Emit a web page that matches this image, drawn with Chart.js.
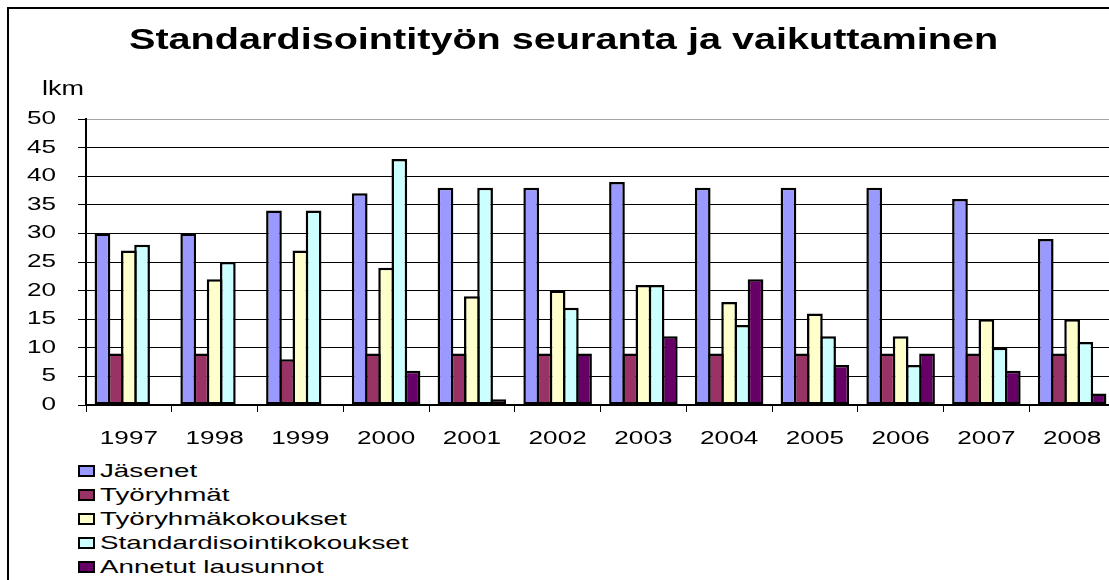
<!DOCTYPE html>
<html>
<head>
<meta charset="utf-8">
<script src="https://cdn.jsdelivr.net/npm/chart.js@4.4.0/dist/chart.umd.min.js"></script>
<style>
  html, body { margin: 0; padding: 0; background: #fff; }
  #wrap { position: relative; width: 1109px; height: 580px; overflow: hidden; background: #fff; }
  #chart { position: absolute; left: 0; top: 0; }
  #frame { position: absolute; left: 7px; top: 7px; width: 1200px; height: 700px; border: 2px solid #000; pointer-events: none; }
  #title { position: absolute; left: 129px; top: 24px; font: bold 30px 'Liberation Sans', Arial, sans-serif; line-height: 30px; white-space: nowrap; color: #000; transform: scaleX(1.32); transform-origin: 0 0; }
  #unit { position: absolute; left: 42px; top: 78px; font: 20px 'Liberation Sans', Arial, sans-serif; line-height: 20px; color: #000; transform: scaleX(1.35); transform-origin: 0 0; }
  #legend { position: absolute; left: 78px; top: 459px; font: 19px 'Liberation Sans', Arial, sans-serif; color: #000; }
  .item { height: 24px; line-height: 24px; white-space: nowrap; position: relative; }
  .box { position: absolute; left: 0; top: 6px; width: 17px; height: 12px; box-sizing: border-box; border: 2px solid #000; }
  .txt { position: absolute; left: 22px; top: 0; transform: scaleX(1.46); transform-origin: 0 0; }
</style>
</head>
<body>
<div id="wrap">
  <canvas id="chart" width="1115" height="450"></canvas>
  <div id="title"></div>
  <div id="unit"></div>
  <div id="legend"></div>
  <div id="frame"></div>
</div>
<script>
// --- DATA ---
const years = ['1997', '1998', '1999', '2000', '2001', '2002', '2003', '2004', '2005', '2006', '2007', '2008'];
const jasenet = [30, 30, 34, 37, 38, 38, 39, 38, 38, 38, 36, 29];
const tyoryhmat = [9, 9, 8, 9, 9, 9, 9, 9, 9, 9, 9, 9];
const tyoryhmakokoukset = [27, 22, 27, 24, 19, 20, 21, 18, 16, 12, 15, 15];
const standardisointikokoukset = [28, 25, 34, 43, 38, 17, 21, 14, 12, 7, 10, 11];
const annetutLausunnot = [null, null, null, 6, 1, 9, 12, 22, 7, 9, 6, 2];

const seriesNames = ['Jäsenet', 'Työryhmät', 'Työryhmäkokoukset', 'Standardisointikokoukset', 'Annetut lausunnot'];
const seriesColors = ['#9999FF', '#993366', '#FFFFCC', '#CCFFFF', '#660066'];
const yMin = 0, yMax = 50, yStep = 5;

const titleText = 'Standardisointityön seuranta ja vaikuttaminen';
const unitText = 'lkm';

// --- TEXT ---
document.getElementById('title').textContent = titleText;
document.getElementById('unit').textContent = unitText;

const legendElem = document.getElementById('legend');
seriesNames.forEach((name, i) => {
    const row = document.createElement('div');
    row.className = 'item';
    const box = document.createElement('span');
    box.className = 'box';
    box.style.background = seriesColors[i];
    const txt = document.createElement('span');
    txt.className = 'txt';
    txt.textContent = name;
    row.appendChild(box);
    row.appendChild(txt);
    legendElem.appendChild(row);
});

// --- CHART ---
const seriesData = [jasenet, tyoryhmat, tyoryhmakokoukset, standardisointikokoukset, annetutLausunnot];

// bars overlap by one border width so neighbours share a single outline
const getDataset = (label, data, color) => ({
    label: label,
    data: data,
    backgroundColor: color,
    borderColor: '#000',
    borderWidth: 2.5,
    borderSkipped: false,
    barPercentage: 1.19,
    categoryPercentage: 0.77,
});

// the original's tick text is horizontally stretched; stretch each label around its anchor
const stretchText = {
    id: 'stretchText',
    beforeDraw(chart) {
        const ctx = chart.ctx;
        if (ctx._stretched) return;
        const fill = ctx.fillText.bind(ctx);
        ctx.fillText = (text, x, y, maxWidth) => {
            ctx.save();
            ctx.translate(x, y);
            ctx.scale(1.45, 1);
            if (maxWidth === undefined) fill(text, 0, 0);
            else fill(text, 0, 0, maxWidth / 1.45);
            ctx.restore();
        };
        ctx._stretched = true;
    }
};

const tickFont = { family: "'Liberation Sans', Arial, sans-serif", size: 18 };

new Chart(document.getElementById('chart'), {
    type: 'bar',
    data: {
        labels: years,
        datasets: seriesNames.map((name, i) => getDataset(name, seriesData[i], seriesColors[i]))
    },
    options: {
        responsive: false,
        animation: false,
        devicePixelRatio: 1,
        layout: { padding: { top: 119, left: 0, right: 0, bottom: 0 } },
        plugins: {
            legend: { display: false },
            title: { display: false },
            tooltip: { enabled: false }
        },
        scales: {
            x: {
                afterFit: (scale) => { scale.height = 45; },
                grid: { display: true, drawOnChartArea: false, offset: true, tickLength: 7, color: '#000', tickColor: '#000' },
                border: { display: true, color: '#000', width: 1.5 },
                ticks: { color: '#000', font: tickFont, padding: 16, autoSkip: false, maxRotation: 0 }
            },
            y: {
                min: yMin,
                max: yMax,
                afterFit: (scale) => { scale.width = 86; },
                grid: {
                    color: (c) => (c.tick && c.tick.value === yMax) ? '#a6a6a6' : '#000',
                    tickColor: '#000',
                    tickLength: 8,
                    lineWidth: 1
                },
                border: { display: true, color: '#000', width: 2 },
                ticks: { stepSize: yStep, color: '#000', font: tickFont, padding: 22 }
            }
        }
    },
    plugins: [stretchText]
});
</script>
</body>
</html>
